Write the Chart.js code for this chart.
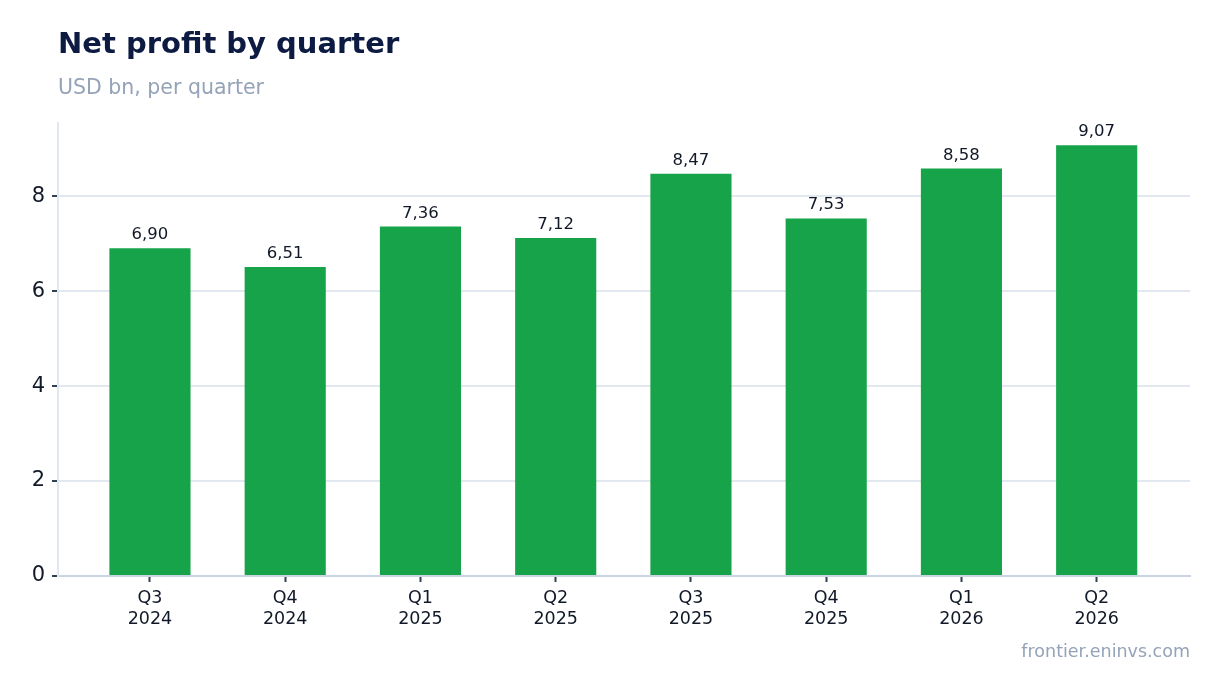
<!DOCTYPE html>
<html>
<head>
<meta charset="utf-8">
<script src="https://cdn.jsdelivr.net/npm/chart.js@4"></script>
<style>
  html, body { margin: 0; padding: 0; background: #fff; }
  #wrap { position: relative; width: 1220px; height: 693px; font-family: "DejaVu Sans", sans-serif; }
  #title { position: absolute; left: 58px; top: 26px; font-size: 29px; font-weight: bold; color: #0d1b42; }
  #subtitle { position: absolute; left: 58px; top: 75px; font-size: 20.5px; color: #94a3b8; }
  #source { position: absolute; right: 30px; top: 641px; font-size: 17.5px; color: #94a3b8; }
  canvas { position: absolute; left: 0; top: 0; }
</style>
</head>
<body>
<div id="wrap">
  <canvas id="profitChart" width="1220" height="693"></canvas>
  <div id="title">Net profit by quarter</div>
  <div id="subtitle">USD bn, per quarter</div>
  <div id="source">frontier.eninvs.com</div>
</div>
<script>
const quarters = [['Q3', '2024'], ['Q4', '2024'], ['Q1', '2025'], ['Q2', '2025'],
                  ['Q3', '2025'], ['Q4', '2025'], ['Q1', '2026'], ['Q2', '2026']];
const netProfit = [6.90, 6.51, 7.36, 7.12, 8.47, 7.53, 8.58, 9.07];
const yTicks = [0, 2, 4, 6, 8];

// Value labels above each bar
const barLabels = {
    id: 'barLabels',
    afterDatasetsDraw(chart) {
        const ctx = chart.ctx;
        const meta = chart.getDatasetMeta(0);
        ctx.save();
        ctx.font = '16.5px "DejaVu Sans"';
        ctx.fillStyle = '#111827';
        ctx.textAlign = 'center';
        ctx.textBaseline = 'bottom';
        meta.data.forEach((bar, i) => {
            ctx.fillText(netProfit[i].toFixed(2).replace('.', ','), bar.x, bar.y - 5);
        });
        ctx.restore();
    }
};

new Chart(document.getElementById('profitChart'), {
    type: 'bar',
    data: {
        datasets: [{
            data: netProfit.map((v, i) => ({ x: i, y: v })),
            backgroundColor: '#17a34a',
            categoryPercentage: 1,
            barPercentage: 0.6
        }]
    },
    options: {
        responsive: false,
        animation: false,
        layout: { padding: { top: 123, right: 30, bottom: 0, left: 0 } },
        plugins: { legend: { display: false }, tooltip: { enabled: false } },
        scales: {
            x: {
                type: 'linear',
                min: -0.68,
                max: 7.69,
                offset: false,
                afterFit: scale => { scale.height = 117; },
                afterBuildTicks: scale => { scale.ticks = quarters.map((q, i) => ({ value: i })); },
                grid: { offset: false, drawOnChartArea: false, tickColor: '#334155', tickLength: 6, tickWidth: 2 },
                border: { color: '#cbd5e1', width: 2 },
                ticks: {
                    color: '#111827',
                    font: { family: 'DejaVu Sans', size: 17.5 },
                    padding: 6,
                    callback: value => quarters[value]
                }
            },
            y: {
                min: 0,
                max: 9.54,
                afterFit: scale => { scale.width = 58; },
                afterBuildTicks: scale => { scale.ticks = yTicks.map(v => ({ value: v })); },
                grid: { color: '#e2e8f0', lineWidth: 2, tickColor: '#334155', tickLength: 6, tickWidth: 2 },
                border: { color: '#e2e8f0', width: 2 },
                ticks: { color: '#111827', font: { family: 'DejaVu Sans', size: 21 }, padding: 7 }
            }
        }
    },
    plugins: [barLabels]
});
</script>
</body>
</html>
